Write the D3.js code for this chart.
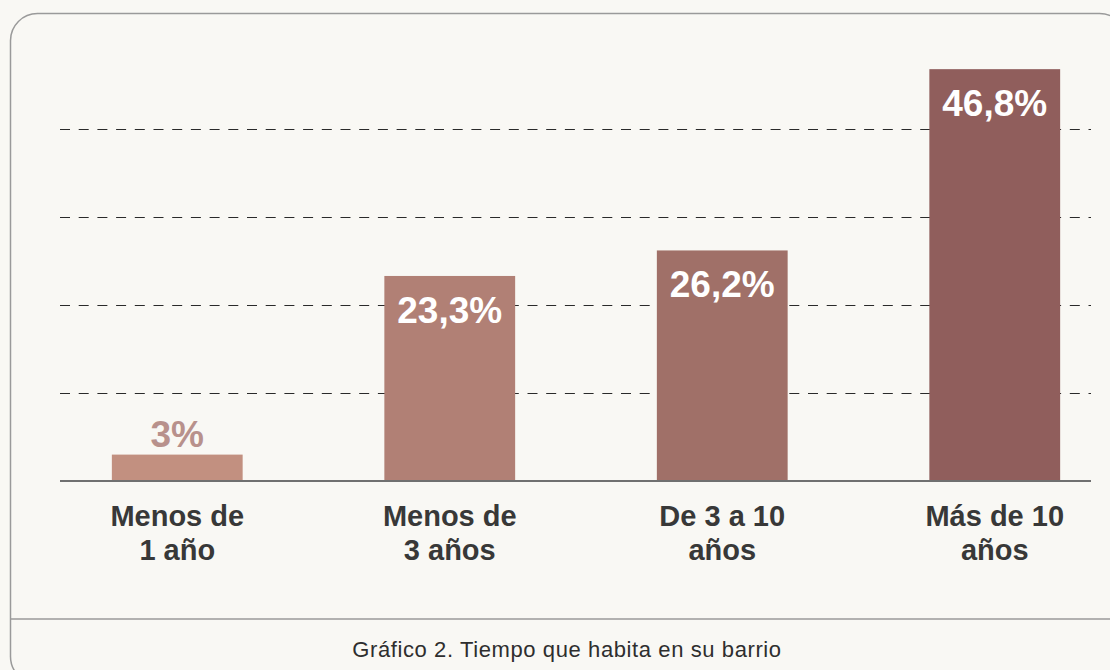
<!DOCTYPE html>
<html>
<head>
<meta charset="utf-8">
<script src="https://cdn.jsdelivr.net/npm/d3@7"></script>
<style>
  html, body { margin: 0; padding: 0; background: #f9f8f4; }
  svg { display: block; font-family: "Liberation Sans", Arial, Helvetica, sans-serif; }
  .cat { font-size: 29px; font-weight: bold; fill: #383838; }
  .val { font-size: 37px; font-weight: bold; }
  .caption { font-size: 22px; fill: #2e2e2e; letter-spacing: 0.6px; }
</style>
</head>
<body>
<div id="container"></div>
<script>
  // datos del gráfico
  const categories = ["Menos de|1 año", "Menos de|3 años", "De 3 a 10|años", "Más de 10|años"];
  const values = [3, 23.3, 26.2, 46.8];
  const gridTicks = [10, 20, 30, 40];
  const caption = "Gráfico 2. Tiempo que habita en su barrio";

  const WIDTH = 1110;
  const HEIGHT = 670;
  const BAR_COLORS = ["#c29080", "#b18075", "#a07068", "#905e5c"];

  window.onload = function() {
    let svg = d3.select("#container")
      .append("svg")
      .attr("width", WIDTH)
      .attr("height", HEIGHT);

    // marco con esquinas redondeadas
    svg.append("rect")
      .attr("x", 10.5)
      .attr("y", 13.5)
      .attr("width", 1116)
      .attr("height", 670)
      .attr("rx", 27)
      .attr("fill", "#f9f8f4")
      .attr("stroke", "#9a9a9a")
      .attr("stroke-width", 1.5);

    svg.append("line")
      .attr("x1", 10).attr("x2", WIDTH)
      .attr("y1", 619).attr("y2", 619)
      .attr("stroke", "#9a9a9a")
      .attr("stroke-width", 1.5);

    let x = d3.scaleBand()
      .domain(categories)
      .range([41, 1131])
      .paddingInner(0.52)
      .paddingOuter(0.26);

    let y = d3.scaleLinear()
      .domain([0, 50])
      .range([481, 41]);

    // líneas de cuadrícula
    svg.append("g")
      .selectAll("line")
      .data(gridTicks)
      .enter()
      .append("line")
      .attr("x1", 60)
      .attr("x2", 1091)
      .attr("y1", d => y(d) + 0.5)
      .attr("y2", d => y(d) + 0.5)
      .attr("stroke", "#2a2a2a")
      .attr("stroke-width", 1)
      .attr("stroke-dasharray", "10,8.7");

    svg.append("g")
      .selectAll("rect")
      .data(values)
      .enter()
      .append("rect")
      .attr("x", (d, i) => x(categories[i]))
      .attr("y", d => y(d))
      .attr("width", x.bandwidth())
      .attr("height", d => y(0) - y(d))
      .attr("fill", (d, i) => BAR_COLORS[i]);

    svg.append("line")
      .attr("x1", 60).attr("x2", 1091)
      .attr("y1", y(0)).attr("y2", y(0))
      .attr("stroke", "#707070")
      .attr("stroke-width", 2);

    // etiquetas de valores
    svg.append("g")
      .selectAll("text")
      .data(values)
      .enter()
      .append("text")
      .attr("class", "val")
      .attr("text-anchor", "middle")
      .attr("x", (d, i) => x(categories[i]) + x.bandwidth() / 2)
      .attr("y", d => (y(0) - y(d) > 60 ? y(d) + 47 : y(d) - 8))
      .attr("fill", d => (y(0) - y(d) > 60 ? "#ffffff" : "#b8918c"))
      .text(d => String(d).replace(".", ",") + "%");

    // etiquetas de categorías (dos líneas)
    let cats = svg.append("g")
      .selectAll("text")
      .data(categories)
      .enter()
      .append("text")
      .attr("class", "cat")
      .attr("text-anchor", "middle")
      .attr("x", d => x(d) + x.bandwidth() / 2)
      .attr("y", y(0) + 45);

    cats.selectAll("tspan")
      .data(d => d.split("|"))
      .enter()
      .append("tspan")
      .attr("x", function() { return d3.select(this.parentNode).attr("x"); })
      .attr("dy", (d, i) => (i === 0 ? 0 : 34))
      .text(d => d);

    svg.append("text")
      .attr("class", "caption")
      .attr("text-anchor", "middle")
      .attr("x", 567)
      .attr("y", 657)
      .text(caption);
  };
</script>
</body>
</html>
